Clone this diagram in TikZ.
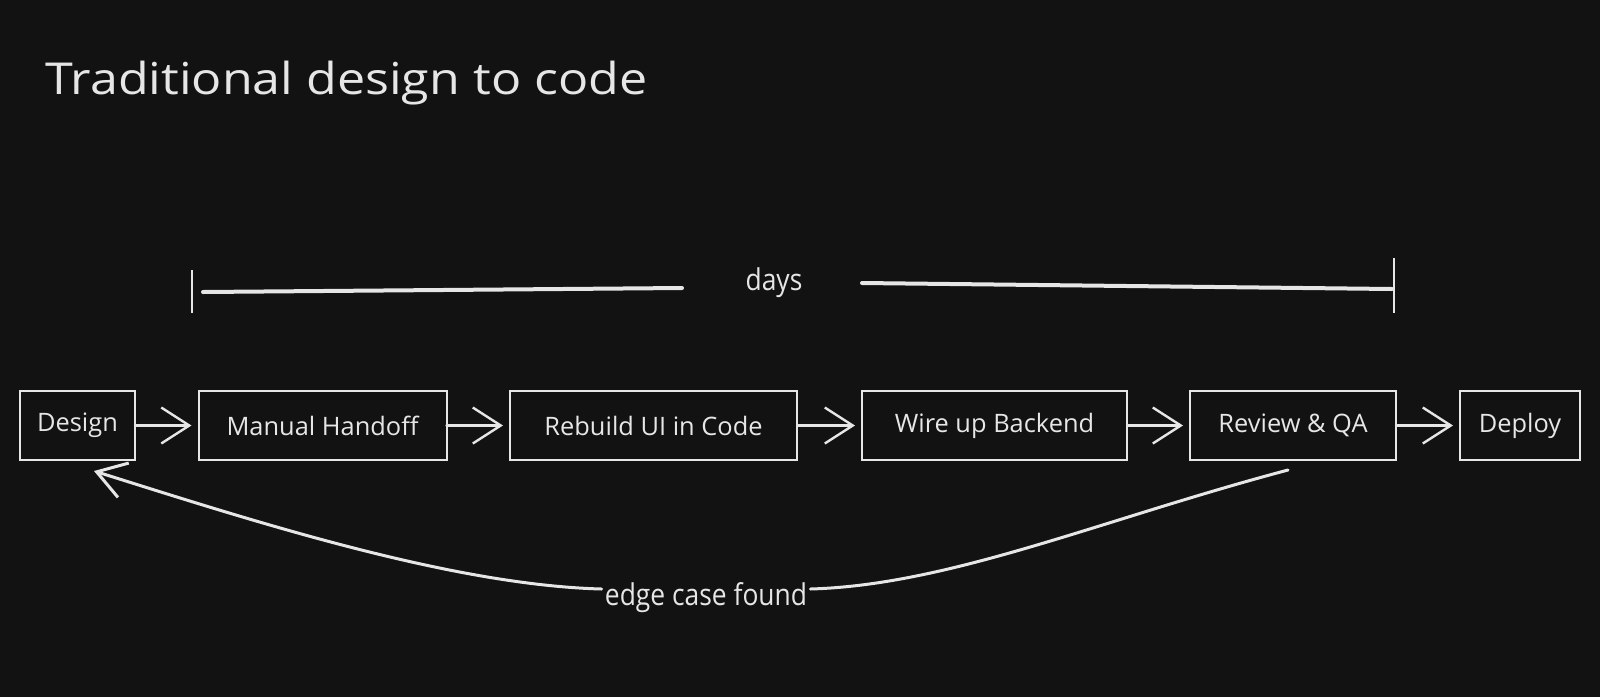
\documentclass[tikz,border=0pt]{standalone}
\usepackage{fontspec}
\setmainfont{Open Sans}
\newfontfamily\narrowfont{Open Sans}[FakeStretch=0.88]
\newfontfamily\widefont{Open Sans}[FakeStretch=1.14]
\usetikzlibrary{arrows.meta,calc}
\definecolor{bg}{HTML}{121212}
\definecolor{ink}{HTML}{E6E6E6}
\begin{document}
\begin{tikzpicture}[x=0.5pt,y=-0.5pt,
  stepbox/.style={draw=ink, line width=1pt, text=ink, inner sep=0pt, outer sep=0pt,
    minimum height=34.5pt, font=\fontsize{12.7}{15}\selectfont},
  barb/.style={-{Straight Barb[length=14pt,width=18pt]}},
  flow/.style={draw=ink, line width=1.2pt, line cap=round, barb, shorten >=3.5pt},
  span/.style={draw=ink, line width=2pt, line cap=round},
  tick/.style={draw=ink, line width=1pt},
  backloop/.style={draw=ink, line width=1.5pt, line cap=round},
  lbl/.style={text=ink, inner sep=0pt, font=\narrowfont\fontsize{15}{17}\selectfont}
]
\fill[bg] (0,0) rectangle (1600,697);
\useasboundingbox (0,0) rectangle (1600,697);

% title
\node[anchor=base west, text=ink, inner sep=0pt, font=\widefont\fontsize{22}{26}\selectfont] (title) at (45,94) {Traditional design to code};

% steps
\node[stepbox, minimum width=57.5pt]  (design)  at (77.5,425.5)  {Design};
\node[stepbox, minimum width=124pt]   (handoff) at (322.5,425.5) {Manual Handoff};
\node[stepbox, minimum width=143.5pt] (rebuild) at (653.5,425.5) {Rebuild UI in Code};
\node[stepbox, minimum width=132.5pt] (backend) at (994.5,425.5) {Wire up Backend};
\node[stepbox, minimum width=103pt]   (review)  at (1293,425.5)  {Review \& QA};
\node[stepbox, minimum width=60pt]    (deploy)  at (1520,425.5)  {Deploy};

\draw[flow] (design) -- (handoff);
\draw[flow] (handoff) -- (rebuild);
\draw[flow] (rebuild) -- (backend);
\draw[flow] (backend) -- (review);
\draw[flow] (review) -- (deploy);

% days span
\node[lbl] (days) at (774,283) {days};
\coordinate (dlt) at (192,270);
\coordinate (dlb) at (192,313);
\coordinate (dl0) at (203,292);
\coordinate (dl1) at (682,288);
\coordinate (dr0) at (862,283);
\coordinate (dr1) at (1392,289);
\coordinate (drt) at (1394,258);
\coordinate (drb) at (1394,313);
\draw[tick] (dlt) -- (dlb);
\draw[tick] (drt) -- (drb);
\draw[span] (dl0) -- (dl1);
\draw[span] (dr0) -- (dr1);

% loop back
\node[lbl, inner sep=1.5pt] (edge) at (706,598) {edge case found};
\coordinate (qaout) at ($(review.south)+(-5,10)$);
\coordinate (designin) at ($(design.south)+(16.5,11)$);
\draw[backloop] (qaout) .. controls (1100,520) and (950,585) .. ($(edge.east)+(0,-9)$);
\draw[backloop, barb] ($(edge.west)+(0,-9)$) .. controls (450,585) and (250,520) .. (designin);
\end{tikzpicture}
\end{document}
